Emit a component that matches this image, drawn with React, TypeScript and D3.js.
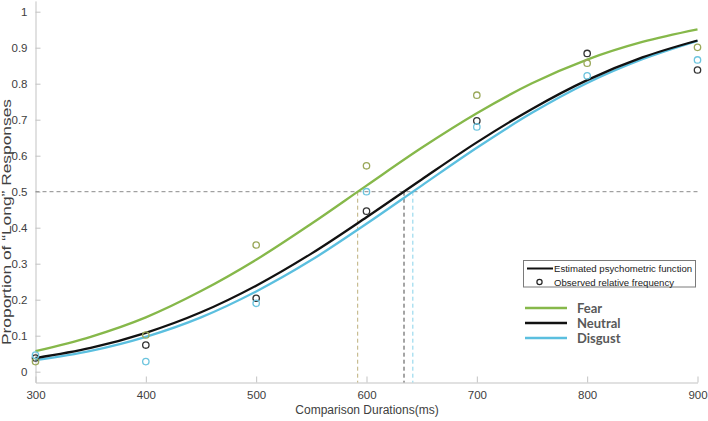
import { useEffect, useRef } from 'react'
import * as d3 from 'd3'

// comparison durations where observed frequencies were measured
const durations = [300, 400, 500, 600, 700, 800, 900]
const fitDurations = [300, 350, 400, 450, 500, 550, 600, 650, 700, 750, 800, 850, 900]

const fearFit = [0.057, 0.097, 0.151, 0.224, 0.311, 0.411, 0.517, 0.622, 0.718, 0.801, 0.867, 0.916, 0.951]
const neutralFit = [0.038, 0.066, 0.108, 0.165, 0.239, 0.328, 0.429, 0.534, 0.637, 0.73, 0.81, 0.873, 0.92]
const disgustFit = [0.032, 0.058, 0.097, 0.151, 0.223, 0.31, 0.411, 0.517, 0.622, 0.719, 0.802, 0.868, 0.919]

const fearObserved = [0.028, 0.102, 0.352, 0.572, 0.768, 0.857, 0.901]
const neutralObserved = [0.038, 0.074, 0.204, 0.446, 0.697, 0.884, 0.838]
const disgustObserved = [0.046, 0.028, 0.19, 0.5, 0.68, 0.822, 0.866]

// point of subjective equality for each emotion
const pse = { fear: 592, neutral: 634, disgust: 642 }

const xTicks = [300, 400, 500, 600, 700, 800, 900]
const yTicks = [0, 0.1, 0.2, 0.3, 0.4, 0.5, 0.6, 0.7, 0.8, 0.9, 1]

const series = [
  { name: 'Fear', fit: fearFit, obs: fearObserved, pse: pse.fear, line: '#86b84a', dot: '#9aa85a', dash: '#bdb07c' },
  { name: 'Neutral', fit: neutralFit, obs: neutralObserved, pse: pse.neutral, line: '#111111', dot: '#333333', dash: '#4a4a4a' },
  { name: 'Disgust', fit: disgustFit, obs: disgustObserved, pse: pse.disgust, line: '#5bbfdf', dot: '#6cc4de', dash: '#86d2ea' },
]

export default function App() {
  const svgRef = useRef<SVGSVGElement>(null)

  useEffect(() => {
    if (!svgRef.current) return
    const svg = d3.select(svgRef.current)
    svg.selectAll('*').remove()

    const x = d3.scaleLinear().domain([300, 900]).range([35.5, 697.5])
    const y = d3.scaleLinear().domain([-0.03, 1.03]).range([382.5, 0.9])
    const axisColor = '#c3c3c3'
    const font = 'Liberation Sans, Arial, sans-serif'

    svg.append('rect').attr('width', 708).attr('height', 421).attr('fill', 'white')

    // x axis
    svg
      .append('g')
      .attr('transform', `translate(0,${y(-0.03)})`)
      .call(d3.axisBottom(x).tickValues(xTicks).tickSizeInner(-6).tickSizeOuter(0).tickPadding(8))
      .call((g) => g.select('.domain').attr('stroke', axisColor))
      .call((g) => g.selectAll('.tick line').attr('stroke', axisColor))
      .call((g) => g.selectAll('.tick text').attr('fill', '#404040').attr('font-size', '11.5px').attr('font-family', font))

    // y axis
    svg
      .append('g')
      .attr('transform', `translate(${x(300)},0)`)
      .call(
        d3
          .axisLeft(y)
          .tickValues(yTicks)
          .tickSizeInner(-5)
          .tickSizeOuter(0)
          .tickPadding(8)
          .tickFormat((d) => `${+(+d).toFixed(1)}`)
      )
      .call((g) => g.select('.domain').attr('stroke', axisColor))
      .call((g) => g.selectAll('.tick line').attr('stroke', axisColor))
      .call((g) => g.selectAll('.tick text').attr('fill', '#404040').attr('font-size', '11.5px').attr('font-family', font))

    svg
      .append('text')
      .attr('x', 367)
      .attr('y', 414)
      .attr('text-anchor', 'middle')
      .attr('fill', '#404040')
      .attr('font-size', '12px')
      .attr('font-family', font)
      .text('Comparison Durations(ms)')

    svg
      .append('text')
      .attr('transform', 'translate(10.5,222) rotate(-90)')
      .attr('text-anchor', 'middle')
      .attr('fill', '#404040')
      .attr('font-size', '12px')
      .attr('font-family', font)
      .attr('textLength', 246)
      .attr('lengthAdjust', 'spacingAndGlyphs')
      .text('Proportion of \u201cLong\u201d Responses')

    // 0.5 reference line
    svg
      .append('line')
      .attr('x1', x(300))
      .attr('x2', x(900))
      .attr('y1', y(0.5))
      .attr('y2', y(0.5))
      .attr('stroke', '#8a8a8a')
      .attr('stroke-width', 1)
      .attr('stroke-dasharray', '4,3')

    // PSE drop lines
    series.forEach((s) => {
      svg
        .append('line')
        .attr('x1', x(s.pse))
        .attr('x2', x(s.pse))
        .attr('y1', y(0.5))
        .attr('y2', y(-0.03))
        .attr('stroke', s.dash)
        .attr('stroke-width', 1)
        .attr('stroke-dasharray', '4,3')
    })

    // fitted curves
    const line = d3
      .line<number>()
      .x((_, i) => x(fitDurations[i]))
      .y((d) => y(d))
      .curve(d3.curveMonotoneX)

    ;[series[2], series[1], series[0]].forEach((s) => {
      svg
        .append('path')
        .datum(s.fit)
        .attr('fill', 'none')
        .attr('stroke', s.line)
        .attr('stroke-width', 2.3)
        .attr('d', line)
    })

    // observed frequencies
    ;[series[1], series[0], series[2]].forEach((s) => {
      svg
        .append('g')
        .selectAll('circle')
        .data(s.obs)
        .join('circle')
        .attr('cx', (_, i) => x(durations[i]))
        .attr('cy', (d) => y(d))
        .attr('r', 3.2)
        .attr('fill', 'none')
        .attr('stroke', s.dot)
        .attr('stroke-width', 1.3)
    })

    // boxed legend
    const box = svg.append('g')
    box
      .append('rect')
      .attr('x', 523.5)
      .attr('y', 260.5)
      .attr('width', 172)
      .attr('height', 26.5)
      .attr('fill', 'white')
      .attr('stroke', '#7a7a7a')
      .attr('stroke-width', 1)
    box
      .append('line')
      .attr('x1', 527)
      .attr('x2', 553)
      .attr('y1', 268.5)
      .attr('y2', 268.5)
      .attr('stroke', '#111')
      .attr('stroke-width', 2)
    box
      .append('circle')
      .attr('cx', 539.5)
      .attr('cy', 282)
      .attr('r', 2.6)
      .attr('fill', 'none')
      .attr('stroke', '#222')
      .attr('stroke-width', 1.2)
    ;['Estimated psychometric function', 'Observed relative frequency'].forEach((t, i) => {
      box
        .append('text')
        .attr('x', 554)
        .attr('y', 272 + i * 14.2)
        .attr('fill', '#222')
        .attr('font-size', '9.6px')
        .attr('font-family', font)
        .text(t)
    })

    // emotion legend
    series.forEach((s, i) => {
      const ly = 308 + i * 15
      svg
        .append('line')
        .attr('x1', 525)
        .attr('x2', 567)
        .attr('y1', ly)
        .attr('y2', ly)
        .attr('stroke', s.line)
        .attr('stroke-width', 2.3)
      svg
        .append('text')
        .attr('x', 577)
        .attr('y', ly + 4.5)
        .attr('fill', '#595959')
        .attr('font-size', '13px')
        .attr('font-weight', 'bold')
        .attr('font-family', 'Lato, Open Sans, sans-serif')
        .text(s.name)
    })
  }, [])

  return (
    <svg
      ref={svgRef}
      width={708}
      height={421}
      style={{ position: 'absolute', left: 0, top: 0, display: 'block' }}
    />
  )
}
